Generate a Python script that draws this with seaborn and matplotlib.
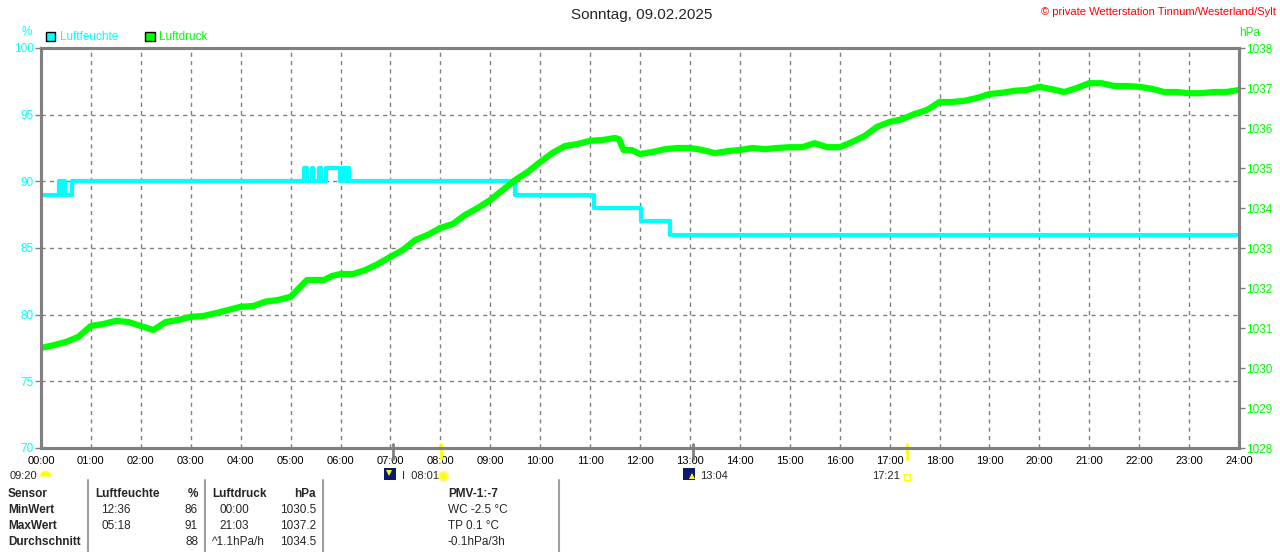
import numpy as np
import pandas as pd
import matplotlib
matplotlib.use("Agg")
import matplotlib.pyplot as plt
import seaborn as sns
from matplotlib.patches import Patch
from matplotlib.lines import Line2D
from matplotlib.transforms import blended_transform_factory

# Luftfeuchte (%), Stufen: Zeit in Stunden, Wert gilt ab diesem Zeitpunkt
feuchte_zeit = [0.0, 0.37, 0.41, 0.45, 0.49, 0.62, 5.27, 5.33, 5.43, 5.45,
                5.57, 5.61, 5.71, 5.99, 6.05, 6.11, 6.13, 6.17, 9.50, 11.07,
                12.02, 12.60, 24.0]
feuchte_wert = [89, 90, 89, 90, 89, 90, 91, 90, 91, 90,
                91, 90, 91, 90, 91, 90, 91, 90, 89, 88,
                87, 86, 86]

druck_zeit = [0.0, 0.25, 0.5, 0.75, 1.0, 1.25, 1.5, 1.75, 2.0, 2.25, 2.5, 2.75,
              3.0, 3.25, 3.5, 3.75, 4.0, 4.25, 4.5, 4.75, 5.0, 5.17, 5.33, 5.67,
              5.83, 6.0, 6.25, 6.5, 6.75, 7.0, 7.25, 7.5, 7.75, 8.0, 8.25, 8.5,
              8.75, 9.0, 9.25, 9.5, 9.75, 10.0, 10.25, 10.5, 10.75, 11.0, 11.25,
              11.5, 11.58, 11.67, 11.83, 12.0, 12.25, 12.5, 12.75, 13.0, 13.25,
              13.5, 13.75, 14.0, 14.25, 14.5, 14.75, 15.0, 15.25, 15.5, 15.75,
              16.0, 16.25, 16.5, 16.75, 17.0, 17.25, 17.5, 17.75, 18.0, 18.25,
              18.5, 18.75, 19.0, 19.25, 19.5, 19.75, 20.0, 20.25, 20.5, 20.75,
              21.0, 21.25, 21.5, 21.75, 22.0, 22.25, 22.5, 22.75, 23.0, 23.25,
              23.5, 23.75, 24.0]
druck_wert = [1030.50, 1030.57, 1030.65, 1030.78, 1031.05, 1031.10, 1031.18, 1031.15,
              1031.05, 1030.95, 1031.15, 1031.20, 1031.28, 1031.30, 1031.37, 1031.45,
              1031.53, 1031.55, 1031.66, 1031.70, 1031.78, 1032.00, 1032.20, 1032.20,
              1032.30, 1032.35, 1032.35, 1032.45, 1032.60, 1032.78, 1032.95, 1033.20,
              1033.33, 1033.50, 1033.60, 1033.83, 1034.00, 1034.20, 1034.45, 1034.70,
              1034.90, 1035.15, 1035.38, 1035.55, 1035.60, 1035.68, 1035.70, 1035.75,
              1035.72, 1035.45, 1035.45, 1035.35, 1035.40, 1035.47, 1035.50, 1035.50,
              1035.45, 1035.37, 1035.42, 1035.45, 1035.50, 1035.47, 1035.50, 1035.52,
              1035.52, 1035.62, 1035.52, 1035.52, 1035.65, 1035.80, 1036.03, 1036.15,
              1036.22, 1036.35, 1036.45, 1036.65, 1036.65, 1036.68, 1036.75, 1036.85,
              1036.88, 1036.93, 1036.95, 1037.03, 1036.97, 1036.90, 1037.00, 1037.12,
              1037.12, 1037.05, 1037.05, 1037.03, 1036.98, 1036.90, 1036.90, 1036.87,
              1036.87, 1036.90, 1036.90, 1036.95]

stunden = list(range(0, 25))
stunden_labels = [f"{h:02d}:00" for h in stunden]
feuchte_ticks = [70, 75, 80, 85, 90, 95, 100]
druck_ticks = list(range(1028, 1039))

# Sonne / Mond
sonnenaufgang = 8.02
sonnenuntergang = 17.35
mond_unter = 7.05
mond_auf = 13.07

# Tabelle unten
tab_zeilen = ["Sensor", "MinWert", "MaxWert", "Durchschnitt"]
tab_feuchte_zeit = ["Luftfeuchte", "12:36", "05:18", ""]
tab_feuchte_wert = ["%", "86", "91", "88"]
tab_druck_zeit = ["Luftdruck", "00:00", "21:03", "^1.1hPa/h"]
tab_druck_wert = ["hPa", "1030.5", "1037.2", "1034.5"]
tab_pmv = ["PMV-1:-7", "WC -2.5 °C", "TP 0.1 °C", "-0.1hPa/3h"]

CYAN = "#00ffff"
GRUEN = "#00ff00"
GRAU = "#808080"
FS = 8.5   # Tabelle / Achsen
FS_T = 8   # Zeitachse

sns.set_style("white")
plt.rcParams["font.family"] = ["Liberation Sans", "DejaVu Sans"]
plt.rcParams["font.size"] = FS

df_f = pd.DataFrame({"zeit": feuchte_zeit, "wert": feuchte_wert})
df_d = pd.DataFrame({"zeit": druck_zeit, "wert": druck_wert})

W, H = 1280, 552
fig = plt.figure(figsize=(W / 100, H / 100), dpi=100)
ax = fig.add_axes([41 / W, 1 - 448 / H, 1198 / W, 400 / H])
ax2 = ax.twinx()

def fx(x):
    return x / W

def fy(y):
    return 1 - y / H

# Gitter
ax.set_xlim(0, 24)
ax.set_ylim(70, 100)
ax2.set_ylim(1028, 1038)
ax.set_xticks(stunden)
ax.set_xticklabels(stunden_labels)
ax.set_yticks(feuchte_ticks)
ax2.set_yticks(druck_ticks)
ax.grid(True, color=GRAU, linestyle=(0, (3, 3)), linewidth=1)
ax.set_axisbelow(True)

sns.lineplot(data=df_f, x="zeit", y="wert", ax=ax, color=CYAN, linewidth=3,
             drawstyle="steps-post", estimator=None)
sns.lineplot(data=df_d, x="zeit", y="wert", ax=ax2, color=GRUEN, linewidth=4.5,
             estimator=None)

for a in (ax, ax2):
    a.set_xlabel("")
    a.set_ylabel("")
    for s in a.spines.values():
        s.set_color(GRAU)
        s.set_linewidth(2.2)

ax.tick_params(axis="x", colors=GRAU, labelcolor="black", length=3, width=1, pad=3, labelsize=FS_T)
ax.tick_params(axis="y", colors=GRAU, labelcolor=CYAN, length=4, width=1, pad=1, labelsize=FS)
ax2.tick_params(axis="y", colors=GRAU, labelcolor=GRUEN, length=4, width=1, pad=1, labelsize=FS)

# Legende
leg = ax.legend(handles=[Patch(facecolor=CYAN, edgecolor="black", label="Luftfeuchte"),
                         Patch(facecolor=GRUEN, edgecolor="black", label="Luftdruck")],
                loc="lower left", bbox_to_anchor=(0.0, 1.0), ncol=2, frameon=False,
                handlelength=0.8, handleheight=0.8, handletextpad=0.4,
                columnspacing=2.3, fontsize=FS, borderaxespad=0.0)
for t, c in zip(leg.get_texts(), [CYAN, GRUEN]):
    t.set_color(c)

# Texte oben
fig.text(fx(642), fy(15), "Sonntag, 09.02.2025", ha="center", va="center", fontsize=11)
fig.text(fx(1276), fy(12), "© private Wetterstation Tinnum/Westerland/Sylt",
         ha="right", va="center", color="red", fontsize=8)
fig.text(fx(27), fy(32), "%", ha="center", va="center", color=CYAN, fontsize=FS)
fig.text(fx(1250), fy(33), "hPa", ha="center", va="center", color=GRUEN, fontsize=FS)

# Sonne/Mond Markierungen
tr = blended_transform_factory(ax.transData, fig.transFigure)
for t, c in [(sonnenaufgang, "#ffff00"), (sonnenuntergang, "#ffff00"),
             (mond_unter, GRAU), (mond_auf, GRAU)]:
    ax.add_line(Line2D([t, t], [fy(459), fy(444)], color=c, linewidth=2,
                       transform=tr, clip_on=False))

ax.plot([0.08], [fy(476)], marker="o", markersize=8, fillstyle="top", color="#ffff00",
        markeredgewidth=0, transform=tr, clip_on=False)
fig.text(fx(37), fy(476), "09:20", ha="right", va="center", fontsize=FS_T)

ax.plot([mond_unter - 0.06], [fy(474)], marker="s", markersize=8.5, color="#0a1a6e",
        markeredgewidth=0, transform=tr, clip_on=False)
ax.plot([mond_unter - 0.08], [fy(473)], marker="v", markersize=4, color="#ffff00",
        markeredgewidth=0, transform=tr, clip_on=False)
fig.text(fx(402), fy(476), "I  08:01", ha="left", va="center", fontsize=FS_T)
ax.plot([sonnenaufgang + 0.03], [fy(476)], marker="o", markersize=6.5, color="#ffff00",
        markeredgecolor="#fff680", markeredgewidth=1.5, transform=tr, clip_on=False)

ax.plot([mond_auf - 0.08], [fy(474)], marker="s", markersize=8.5, color="#0a1a6e",
        markeredgewidth=0, transform=tr, clip_on=False)
ax.plot([mond_auf - 0.03], [fy(476)], marker="^", markersize=4, color="#ffff00",
        markeredgewidth=0, transform=tr, clip_on=False)
fig.text(fx(700), fy(476), "13:04", ha="left", va="center", fontsize=FS_T)

fig.text(fx(900), fy(476), "17:21", ha="right", va="center", fontsize=FS_T)
ax.plot([sonnenuntergang], [fy(477)], marker="s", markersize=4, markerfacecolor="white",
        markeredgecolor="#ffff00", markeredgewidth=1, transform=tr, clip_on=False)

# Tabelle
for x in [88, 205, 323, 559]:
    fig.add_artist(Line2D([fx(x), fx(x)], [fy(480), fy(552)], color="#a0a0a0",
                          linewidth=1.5, transform=fig.transFigure))

zeilen_y = [494, 510, 526, 542]
for i, y in enumerate(zeilen_y):
    kopf = "bold" if i == 0 else "normal"
    fig.text(fx(8), fy(y), tab_zeilen[i], ha="left", va="center", fontweight="bold", fontsize=FS)
    fig.text(fx(95 if i == 0 else 101), fy(y), tab_feuchte_zeit[i], ha="left", va="center",
             fontweight=kopf, fontsize=FS)
    fig.text(fx(198), fy(y), tab_feuchte_wert[i], ha="right", va="center",
             fontweight=kopf, fontsize=FS)
    fig.text(fx(212 if i in (0, 3) else 219), fy(y), tab_druck_zeit[i], ha="left", va="center",
             fontweight=kopf, fontsize=FS)
    fig.text(fx(316), fy(y), tab_druck_wert[i], ha="right", va="center",
             fontweight=kopf, fontsize=FS)
    fig.text(fx(448), fy(y), tab_pmv[i], ha="left", va="center", fontweight=kopf, fontsize=FS)

fig.savefig("out.png", dpi=100)
